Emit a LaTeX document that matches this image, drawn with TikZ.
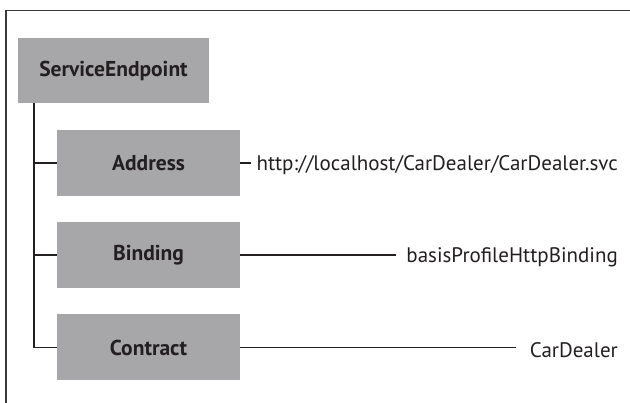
\documentclass[tikz,border=0pt]{standalone}
\usepackage{fontspec}
\setmainfont{PT Sans}
\begin{document}
\begin{tikzpicture}[x=1pt,y=-1pt,
  box/.style={draw=none,fill=boxgray,minimum width=183pt,minimum height=66pt,
    inner sep=0pt,font=\fontsize{21.5}{24}\selectfont\bfseries,text=inkgray},
  lbl/.style={inner sep=0pt,anchor=east,font=\fontsize{21}{24}\selectfont,text=inkgray},
  wire/.style={line width=1.6pt,draw=inkgray},
  frame/.style={line width=1.4pt,draw=framegray}]
\definecolor{boxgray}{HTML}{A7A7A9}
\definecolor{inkgray}{HTML}{231F20}
\definecolor{framegray}{HTML}{3A3A3A}
\useasboundingbox (0,0) rectangle (630,403);
% open frame: left and top edges only
\draw[frame] (6,403) -- (6,10.5) -- (630,10.5);

% tree of boxes
\node[box,minimum width=191pt,minimum height=65pt] (se) at (113.5,70.5) {ServiceEndpoint};
\node[box] (addr) at (148.5,163) {Address};
\node[box] (bind) at (148.5,255) {Binding};
\node[box] (contr) at (148.5,347.5) {Contract};

% trunk and branches
\coordinate (trunk) at (34,0);
\draw[wire] (se.south -| trunk) -- (contr.west -| trunk) -- (contr.west);
\draw[wire] (addr.west -| trunk) -- (addr.west);
\draw[wire] (bind.west -| trunk) -- (bind.west);

% values
\node[lbl] (addrv) at (618,165) {http://localhost/CarDealer/CarDealer.svc};
\node[lbl] (bindv) at (618,257) {basisProfileHttpBinding};
\node[lbl] (contrv) at (618,350) {CarDealer};

\draw[wire] (addr.east) -- ([xshift=-5pt]addrv.west |- addr.east);
\draw[wire] (bind.east) -- ([xshift=-10pt]bindv.west |- bind.east);
\draw[wire] (contr.east) -- ([xshift=-14pt]contrv.west |- contr.east);
\end{tikzpicture}
\end{document}
